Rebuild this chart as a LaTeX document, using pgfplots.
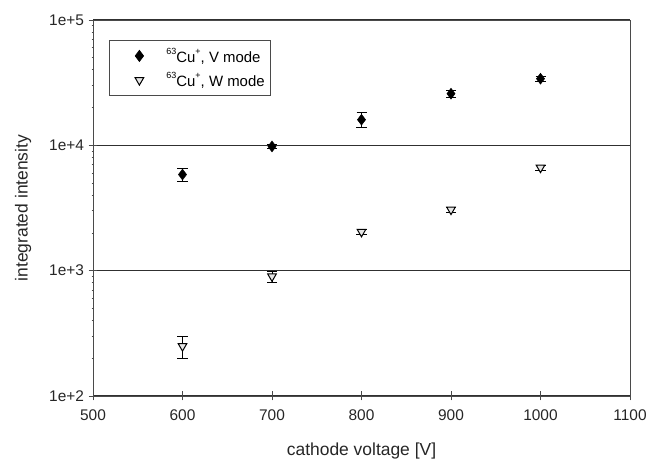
\documentclass[border=0pt]{standalone}
\usepackage{pgfplots}
\pgfplotsset{compat=1.18}
\usepackage{fontspec}
\setmainfont{Liberation Sans}
\definecolor{axgray}{HTML}{4A4A4A}
\definecolor{gridgray}{HTML}{303030}
\definecolor{trifill}{HTML}{E6E6E6}
\newcommand{\sups}[1]{\raisebox{0.5em}{\fontsize{9}{10}\selectfont #1}}
\begin{document}
\begin{tikzpicture}
\useasboundingbox (0,0) rectangle (651bp,460bp);
\begin{axis}[
  at={(93bp,64bp)}, anchor=south west,
  scale only axis, width=537bp, height=376bp,
  ymode=log,
  xmin=500, xmax=1100, ymin=100, ymax=100000,
  xtick={500,600,...,1100},
  ytick={100,1000,10000,100000},
  yticklabels={1e+2,1e+3,1e+4,1e+5},
  minor ytick={}, 
  ytick pos=left, xtick pos=bottom,
  tick align=center, major tick length=9bp,
  every tick/.style={axgray, line width=0.8bp},
  axis line style={axgray, line width=0.8bp},
  ymajorgrids, grid style={gridgray, line width=1.3bp},
  ticklabel style={font=\fontsize{15.5}{17}\selectfont, text=black!85},
  xticklabel style={yshift=-6bp},
  yticklabel style={xshift=-1bp},
  /pgf/number format/assume math mode=true,
  /pgf/number format/1000 sep={},
  xlabel={cathode voltage [V]}, ylabel={integrated intensity},
  label style={font=\fontsize{17.5}{19}\selectfont, text=black!85},
  xlabel style={at={(axis description cs:0.5,-0.157)}, anchor=base},
  ylabel style={at={(axis description cs:-0.13,0.5)}, anchor=center},
  legend style={at={(axis description cs:0.0298,0.947)}, anchor=north west,
    draw=axgray, line width=0.8bp, font=\fontsize{15}{17}\selectfont,
    inner xsep=4bp, inner ysep=6bp, row sep=5bp},
  legend cell align=left,
  legend image code/.code={\path[draw=none, fill=none] (0bp,0bp) -- (51bp,0bp); \draw plot coordinates {(26bp,0bp)};},
]
\addplot[only marks, mark=diamond*, mark size=5.5bp, mark options={fill=black, draw=black},
  error bars/.cd, y dir=both, y explicit,
  error bar style={black, line width=0.9bp},
  error mark options={rotate=90, mark size=5bp, line width=0.9bp}]
  coordinates {
  (600,5850) +- (0,700)
  (700,9800) +- (0,300)
  (800,16000) +- (0,2200)
  (900,25800) +- (0,1500)
  (1000,34000) +- (0,1500)
};
\addlegendentry{\sups{63}Cu\sups{+}, V mode}
\addplot[only marks, mark=triangle*, mark size=5bp,
  mark options={rotate=180, fill=trifill, draw=black, line width=1bp},
  error bars/.cd, y dir=both, y explicit,
  error bar style={black, line width=0.9bp},
  error mark options={rotate=90, mark size=5bp, line width=0.9bp}]
  coordinates {
  (600,250) +- (0,50)
  (700,900) +- (0,90)
  (800,2040) +- (0,100)
  (900,3070) +- (0,150)
  (1000,6640) +- (0,300)
};
\addlegendentry{\sups{63}Cu\sups{+}, W mode}
\end{axis}
\end{tikzpicture}
\end{document}
